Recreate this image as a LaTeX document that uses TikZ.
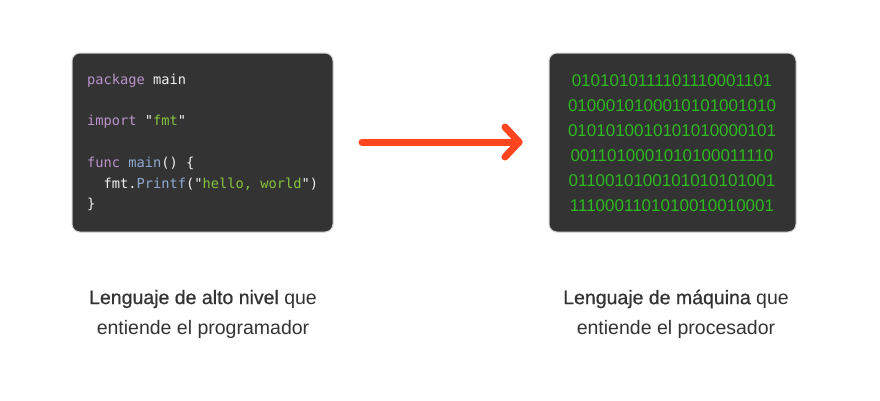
\documentclass[tikz,border=0pt]{standalone}
\usepackage{fontspec}
\setmainfont{Liberation Sans}
\newfontfamily\medfont[FakeBold=0.7]{Liberation Sans}
\newfontfamily\codefont{DejaVu Sans Mono}
\newfontfamily\binfont{Liberation Sans}
\definecolor{boxbg}{HTML}{333333}
\definecolor{boxedge}{HTML}{CFCFCF}
\definecolor{kw}{HTML}{BC93CB}
\definecolor{str}{HTML}{86C43C}
\definecolor{fn}{HTML}{8FAAD2}
\definecolor{plain}{HTML}{F2F2F2}
\definecolor{bin}{HTML}{2DBA1E}
\definecolor{arr}{HTML}{FF4420}
\definecolor{lbl}{HTML}{333333}
\tikzset{
  codebox/.style={draw=boxedge, line width=1pt, fill=boxbg, rounded corners=8pt},
  codetext/.style={anchor=north west, inner sep=0pt, font=\codefont\fontsize{13.7}{20.8}\selectfont, text=plain, align=left},
  bintext/.style={anchor=north, inner sep=0pt, font=\binfont\fontsize{17}{25}\selectfont, text=bin, align=center},
  label/.style={inner sep=0pt, font=\fontsize{19.5}{30}\selectfont, text=lbl, align=center},
  bigarrow/.style={draw=arr, line width=7pt, line cap=round, line join=round}
}
\begin{document}
\begin{tikzpicture}[x=1pt,y=-1pt]
\useasboundingbox (0,0) rectangle (880,400);
\draw[codebox] (72,53) rectangle (333,232);
\node[codetext] (code) at (87,74) {%
\textcolor{kw}{package} main\\[20.5pt]
\textcolor{kw}{import} "\textcolor{str}{fmt}"\\[20.5pt]
\textcolor{kw}{func} \textcolor{fn}{main}() \{\\
\ \ fmt.\textcolor{fn}{Printf}("\textcolor{str}{hello, world}")\\
\}};
\draw[codebox] (549,53) rectangle (796,232);
\node[bintext] (bin) at (672,74) {%
0101010111101110001101\\
0100010100010101001010\\
0101010010101010000101\\
0011010001010100011110\\
0110010100101010101001\\
1110001101010010010001};
\coordinate (a0) at (362,142);
\coordinate (a1) at (519,142);
\draw[bigarrow] (a0) -- (a1);
\draw[bigarrow] (505,127) -- (a1) -- (505,157);
\node[label] (l1) at (203,314) {{\medfont Lenguaje de alto nivel} que\\entiende el programador};
\node[label] (l2) at (676,314) {{\medfont Lenguaje de máquina} que\\entiende el procesador};
\end{tikzpicture}
\end{document}
